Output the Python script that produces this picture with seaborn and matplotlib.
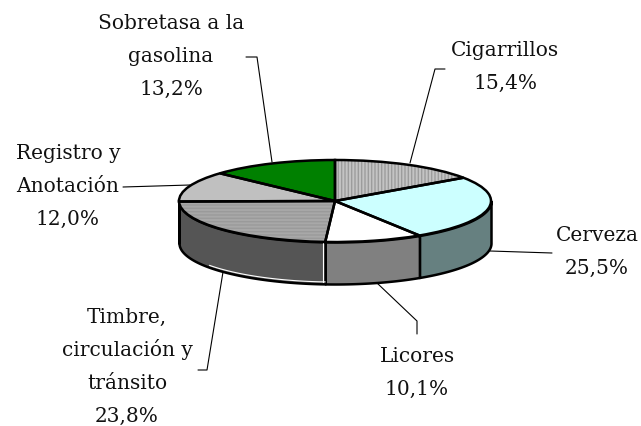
# 3D looking pie: seaborn theme + matplotlib pie, squashed, walls from the same shares
import numpy as np
import seaborn as sns
import matplotlib.pyplot as plt

sns.set_theme(style='white')
plt.rcParams['font.family'] = ['DejaVu Serif']

labels = ['Cigarrillos\n15,4%', 'Cerveza\n25,5%', 'Licores\n10,1%',
          'Timbre,\ncirculación y\ntránsito\n23,8%', 'Registro y\nAnotación\n12,0%',
          'Sobretasa a la\ngasolina\n13,2%']
shares = [15.4, 25.5, 10.1, 23.8, 12.0, 13.2]
top_colors = ['#c4c4c4', '#ccffff', '#ffffff', '#a8a8a8', '#c0c0c0', '#008000']
hatch_colors = ['#9c9c9c', '#ccffff', '#ffffff', '#9a9a9a', '#c0c0c0', '#008000']
hatches = ['|||||', None, None, '-----', None, None]
wall_colors = ['#c4c4c4', '#668080', '#808080', '#555555', '#c0c0c0', '#008000']
# x centre and first baseline of each label, in pixels
label_pos = [(505, 56), (597, 241), (417, 362), (127, 323), (68, 159), (171, 29)]

W, H = 641, 427
cx, cy = 335, 202
rx, ry, depth = 156, 41, 42
line_step = 33

fig = plt.figure(figsize=(W / 100, H / 100), dpi=100)
ax = fig.add_axes([0, 0, 1, 1])


def px(x, y):
    return (x - cx) / rx, (cy - y) / ry


# side walls, only the front half of the pie shows
edges = np.cumsum([0] + shares) * 3.6
for i in range(len(shares)):
    a0, a1 = max(edges[i], 90), min(edges[i + 1], 270)
    if a1 <= a0:
        continue
    t = np.radians(np.linspace(a0, a1, 80))
    ax.fill_between(np.sin(t), np.cos(t), np.cos(t) - depth / ry, facecolor=wall_colors[i],
                    edgecolor='black', linewidth=1.8, zorder=1)

# thin white highlight on the dark wall (timbre slice)
t = np.radians(np.linspace(edges[3], edges[3] + 50, 40))
ax.plot(np.sin(t), np.cos(t) - (depth - 2) / ry, color='white', linewidth=0.8, zorder=1.5)
ax.plot([np.sin(t[0]) - 2 / rx] * 2, [np.cos(t[0]) - 1 / ry, np.cos(t[0]) - (depth - 2) / ry],
        color='white', linewidth=0.8, zorder=1.5)

# top face, hatch first and black outline on top
wedges, _ = ax.pie(shares, colors=top_colors, startangle=90, counterclock=False,
                   radius=1, wedgeprops=dict(linewidth=0))
for w, hc, h in zip(wedges, hatch_colors, hatches):
    w.set_zorder(2)
    if h:
        w.set_edgecolor(hc)
        w.set_hatch(h)
        w.set_linewidth(0)
outline, _ = ax.pie(shares, colors=['none'] * 6, startangle=90, counterclock=False, radius=1,
                    wedgeprops=dict(edgecolor='black', linewidth=1.8))
for w in outline:
    w.set_zorder(3)

ax.set_aspect('auto')
ax.set_xlim(-cx / rx, (W - cx) / rx)
ax.set_ylim((cy - H) / ry, cy / ry)
ax.axis('off')

# leader lines
leaders = [[(445, 70), (435, 70), (410, 164)],
           [(490, 252), (552, 254)],
           [(377, 284), (417, 322), (417, 335)],
           [(198, 371), (207, 371), (223, 273)],
           [(123, 188), (190, 186)],
           [(246, 58), (257, 58), (272, 163)]]
for pts in leaders:
    xy = np.array([px(*p) for p in pts])
    sns.lineplot(x=xy[:, 0], y=xy[:, 1], sort=False, estimator=None, color='black',
                 linewidth=0.8, ax=ax, zorder=0)

# one text per line, the spacing in the original is even from baseline to baseline
for lab, (x, y) in zip(labels, label_pos):
    for k, line in enumerate(lab.split('\n')):
        ax.text(*px(x, y + k * line_step), line, ha='center', va='baseline', fontsize=14.5,
                color='#111111')

fig.savefig('out.png', dpi=100)
